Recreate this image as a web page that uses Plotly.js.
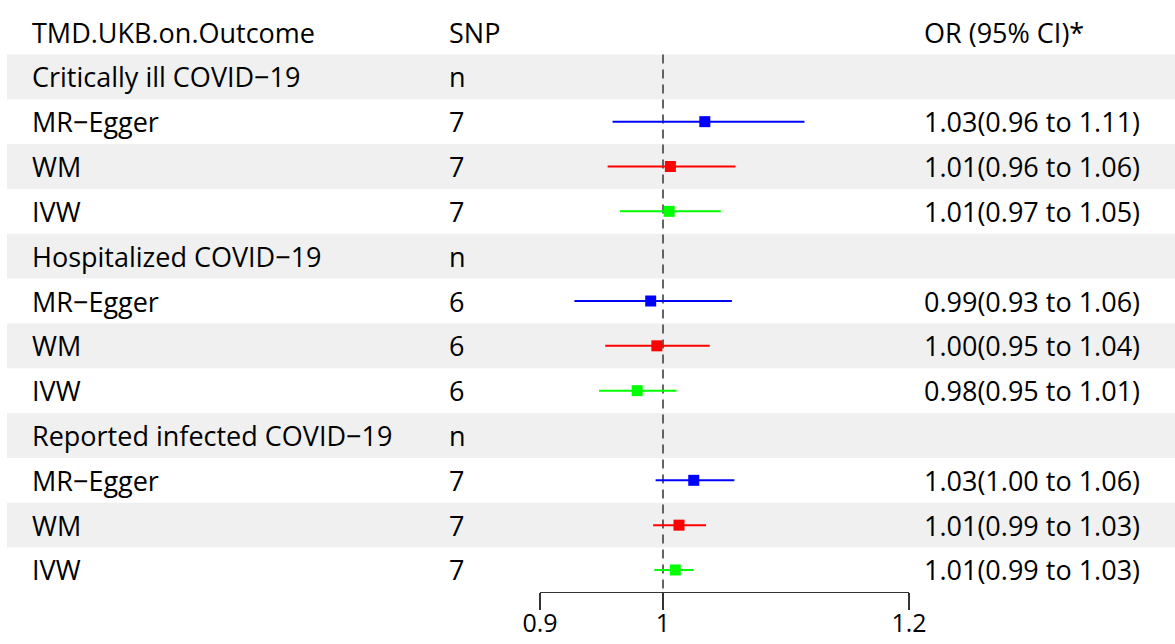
<!DOCTYPE html>
<html>
<head>
<meta charset="utf-8">
<script src="https://cdn.plot.ly/plotly-3.0.1.min.js"></script>
<style>html,body{margin:0;padding:0;background:#fff;}#chart{width:1175px;height:644px;}</style>
</head>
<body>
<div id="chart"></div>
<script>
// ---- data ----
const headers = ["TMD.UKB.on.Outcome", "SNP", "OR (95% CI)*"];
const rowLabels = ["Critically ill COVID\u221219", "MR\u2212Egger", "WM", "IVW",
                   "Hospitalized COVID\u221219", "MR\u2212Egger", "WM", "IVW",
                   "Reported infected COVID\u221219", "MR\u2212Egger", "WM", "IVW"];
const snpCol = ["n", "7", "7", "7", "n", "6", "6", "6", "n", "7", "7", "7"];
const orText = ["", "1.03(0.96 to 1.11)", "1.01(0.96 to 1.06)", "1.01(0.97 to 1.05)",
                "", "0.99(0.93 to 1.06)", "1.00(0.95 to 1.04)", "0.98(0.95 to 1.01)",
                "", "1.03(1.00 to 1.06)", "1.01(0.99 to 1.03)", "1.01(0.99 to 1.03)"];
const methodOf = [null, "MR\u2212Egger", "WM", "IVW", null, "MR\u2212Egger", "WM", "IVW", null, "MR\u2212Egger", "WM", "IVW"];
const est = [null, 1.034, 1.006, 1.005, null, 0.990, 0.995, 0.979, null, 1.025, 1.013, 1.010];
const lower = [null, 0.959, 0.955, 0.965, null, 0.928, 0.953, 0.948, null, 0.994, 0.992, 0.993];
const upper = [null, 1.115, 1.059, 1.047, null, 1.056, 1.038, 1.011, null, 1.058, 1.035, 1.025];
const methods = ["MR\u2212Egger", "WM", "IVW"];
const methodColors = ["#0000FF", "#FF0000", "#00FF00"];
const tickVals = [0.9, 1, 1.2];
const tickText = ["0.9", "1", "1.2"];
const refValue = 1;

// ---- build ----
const W = 1175;
const FONT = "Open Sans, Noto Sans, sans-serif";
const FS = 27;
const traces = methods.map((m, k) => {
  const xs = [], ys = [], ep = [], em = [];
  rowLabels.forEach((_, i) => {
    if (methodOf[i] === m) {
      xs.push(est[i]); ys.push(i + 1);
      ep.push(upper[i] - est[i]); em.push(est[i] - lower[i]);
    }
  });
  return {
    type: "scatter", mode: "markers", x: xs, y: ys, name: m,
    marker: {symbol: "square", size: 11, color: methodColors[k]},
    error_x: {type: "data", symmetric: false, array: ep, arrayminus: em,
              width: 0, thickness: 2, color: methodColors[k]},
    hoverinfo: "skip", showlegend: false, cliponaxis: false
  };
});

const shapes = [];
rowLabels.forEach((_, i) => {
  const r = i + 1;
  if (r % 2 === 1) {
    shapes.push({type: "rect", xref: "paper", yref: "y", x0: 7 / W, x1: 1,
                 y0: r - 0.5, y1: r + 0.5, fillcolor: "#eff0ef", line: {width: 0}, layer: "below"});
  }
});
shapes.push({type: "line", xref: "x", yref: "y", x0: refValue, x1: refValue,
             y0: 0.5, y1: rowLabels.length + 0.491, line: {color: "#333333", width: 1.5, dash: "9px,6px"}, layer: "below"});

const annotations = [];
const colX = [30 / W, 447 / W, 922 / W];
headers.forEach((h, c) => annotations.push({xref: "paper", yref: "y", x: colX[c], y: 0, text: h,
  showarrow: false, xanchor: "left", yanchor: "middle", font: {family: FONT, size: FS, color: "#000"}}));
rowLabels.forEach((lab, i) => {
  const r = i + 1;
  [lab, snpCol[i], orText[i]].forEach((t, c) => {
    if (t) annotations.push({xref: "paper", yref: "y", x: colX[c], y: r, text: t,
      showarrow: false, xanchor: "left", yanchor: "middle", font: {family: FONT, size: FS, color: "#000"}});
  });
});

const layout = {
  width: 1175, height: 644,
  margin: {l: 0, r: 0, t: 0, b: 52, pad: 0},
  paper_bgcolor: "#fff", plot_bgcolor: "rgba(0,0,0,0)",
  showlegend: false,
  xaxis: {domain: [540 / W, 909 / W], range: [0.9, 1.2], showgrid: false, zeroline: false,
          showline: true, linecolor: "#333", linewidth: 1.2, ticks: "outside", ticklen: 17,
          tickwidth: 1.2, tickcolor: "#333", tickvals: tickVals, ticktext: tickText,
          ticklabelstandoff: -8,
          tickfont: {family: FONT, size: 25, color: "#000"}, fixedrange: true},
  yaxis: {range: [rowLabels.length + 0.491, -0.714], showgrid: false, zeroline: false,
          showline: false, showticklabels: false, ticks: "", fixedrange: true},
  shapes: shapes, annotations: annotations
};
Plotly.newPlot("chart", traces, layout, {staticPlot: true, displayModeBar: false});
</script>
</body>
</html>
